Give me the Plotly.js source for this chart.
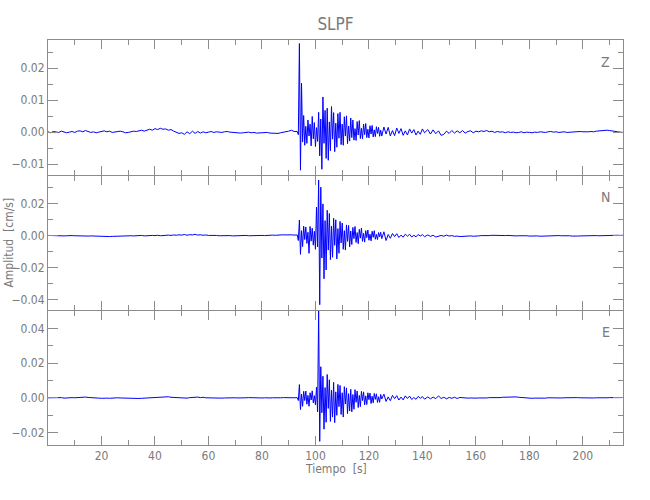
<!DOCTYPE html>
<html>
<head>
<meta charset="utf-8">
<script src="https://cdn.plot.ly/plotly-3.0.1.min.js"></script>
<style>html,body{margin:0;padding:0;background:#fff;}#chart{width:650px;height:500px;}</style>
</head>
<body>
<div id="chart"></div>
<script>
// Time samples [s]
const time = [
0,1,2,3,4,5,6,7,8,9,
10,11,12,13,14,15,16,17,18,19,
20,21,22,23,24,25,26,27,28,29,
30,31,32,33,34,35,36,37,38,39,
40,41,42,43,44,45,46,47,48,49,
50,51,52,53,54,55,56,57,58,59,
60,61,62,63,64,65,66,67,68,69,
70,71,72,73,74,75,76,77,78,79,
80,81,82,83,84,85,86,87,88,89,
90,91,92,
93.2,93.6,94.0,94.4,94.8,95.2,95.6,96.0,96.4,96.8,
97.2,97.6,98.0,98.4,98.8,99.2,99.6,100.0,100.4,100.8,
101.2,101.6,102.0,102.4,102.8,103.2,103.6,104.0,104.4,104.8,
105.2,105.6,106.0,106.4,106.8,107.2,107.6,108.0,108.4,108.8,
109.2,109.6,110.0,110.4,110.8,111.2,111.6,112.0,112.4,112.8,
113.2,113.6,114.0,114.4,114.8,115.2,115.6,116.0,116.4,116.8,
117.2,117.6,118.0,118.4,118.8,119.2,119.6,120.0,120.4,120.8,
121.2,121.6,122.0,122.4,122.8,123.2,123.6,124.0,124.4,124.8,
125.6,126.4,127.2,128.0,128.8,129.6,130.4,131.2,132.0,132.8,
133.6,134.4,135.2,136.0,136.8,137.6,138.4,139.2,140.0,140.8,
142,143,144,145,146,147,148,149,150,151,
152,153,154,155,156,157,158,159,160,161,
162,163,164,165,166,167,168,169,170,171,
172,173,174,175,176,177,178,179,180,181,
182,183,184,185,186,187,188,189,190,191,
192,193,194,195,196,197,198,199,200,201,
202,203,204,205,206,207,208,209,210,211,
212,213,214,215
];

// Vertical component Z [cm/s]
const ampZ = [
0.0001,-0.0002,0.0002,0.0000,-0.0001,0.0003,0.0001,-0.0002,0.0000,0.0002,
-0.0001,0.0003,0.0004,0.0001,0.0005,0.0002,-0.0001,0.0001,-0.0002,0.0000,
0.0002,0.0004,0.0001,0.0003,-0.0001,0.0000,0.0002,0.0003,0.0001,-0.0002,
-0.0001,0.0001,0.0003,0.0002,0.0004,0.0006,0.0003,0.0007,0.0009,0.0006,
0.0011,0.0008,0.0012,0.0009,0.0010,0.0006,0.0008,0.0003,0.0000,-0.0004,
-0.0002,-0.0007,0.0001,-0.0005,0.0003,-0.0004,0.0002,-0.0003,0.0001,-0.0002,
0.0000,0.0002,-0.0001,0.0001,0.0000,-0.0001,0.0001,0.0002,0.0000,-0.0001,
-0.0002,-0.0001,-0.0003,-0.0002,-0.0001,0.0000,-0.0002,-0.0001,-0.0003,-0.0002,
-0.0001,-0.0002,-0.0001,-0.0003,-0.0004,-0.0003,-0.0004,-0.0002,-0.0001,0.0001,
0.0003,0.0006,0.0002,
0.0002,-0.0008,0.0277,-0.0119,0.0153,-0.0031,0.0052,-0.0041,0.0018,-0.0035,
0.0038,-0.0012,0.0025,-0.0043,0.0049,-0.0021,0.0030,-0.0045,0.0014,-0.0029,
0.0062,-0.0074,0.0041,-0.0116,0.0110,-0.0035,0.0068,-0.0082,0.0075,-0.0088,
0.0032,-0.0058,0.0080,-0.0022,0.0061,-0.0061,0.0028,-0.0047,0.0058,-0.0019,
0.0062,-0.0039,0.0025,-0.0041,0.0048,-0.0012,0.0051,-0.0036,0.0019,-0.0028,
0.0044,-0.0017,0.0038,-0.0025,0.0011,-0.0026,0.0033,-0.0009,0.0036,-0.0020,
0.0012,-0.0021,0.0025,-0.0008,0.0027,-0.0017,0.0009,-0.0018,0.0020,-0.0006,
0.0021,-0.0015,0.0007,-0.0014,0.0017,-0.0004,0.0015,-0.0013,0.0006,-0.0012,
0.0016,-0.0006,0.0015,-0.0012,0.0005,-0.0011,0.0013,-0.0004,0.0011,-0.0010,
0.0004,-0.0009,0.0010,-0.0003,0.0008,-0.0009,0.0003,-0.0007,0.0010,-0.0002,
0.0008,-0.0006,0.0007,-0.0005,0.0004,-0.0010,-0.0007,0.0003,-0.0004,0.0005,
-0.0003,0.0004,-0.0002,0.0005,-0.0003,0.0002,0.0004,-0.0002,0.0003,0.0001,
0.0004,0.0002,0.0005,0.0001,0.0003,-0.0001,0.0002,0.0000,0.0001,-0.0002,
0.0001,-0.0001,0.0000,-0.0002,-0.0001,0.0001,-0.0002,0.0000,-0.0001,-0.0002,
0.0000,-0.0001,0.0001,0.0000,-0.0001,0.0001,0.0002,0.0000,0.0001,-0.0001,
0.0000,0.0001,-0.0001,0.0000,0.0001,0.0000,0.0001,0.0002,0.0001,0.0000,
0.0001,0.0002,0.0001,0.0003,0.0004,0.0005,0.0004,0.0006,0.0005,0.0003,
0.0002,0.0001,0.0000,-0.0001
];

// North component N [cm/s]
const ampN = [
0.0002,0.0001,0.0003,0.0002,0.0000,0.0001,-0.0001,0.0000,0.0002,0.0001,
0.0000,-0.0001,-0.0002,-0.0001,-0.0003,-0.0002,-0.0001,-0.0002,-0.0003,-0.0001,
-0.0002,-0.0004,-0.0003,-0.0005,-0.0004,-0.0003,-0.0002,-0.0004,-0.0003,-0.0001,
-0.0002,0.0000,-0.0001,0.0001,0.0000,0.0002,-0.0001,0.0001,0.0000,0.0002,
0.0001,0.0003,0.0000,0.0002,0.0001,0.0004,0.0002,0.0005,0.0003,0.0006,
0.0004,0.0008,0.0003,0.0007,0.0005,0.0009,0.0004,0.0006,0.0003,0.0005,
0.0002,0.0003,0.0001,0.0002,0.0000,0.0001,-0.0001,0.0000,0.0001,-0.0001,
0.0000,0.0001,-0.0001,0.0000,0.0002,0.0000,0.0001,-0.0001,0.0000,0.0001,
0.0002,0.0001,0.0003,0.0002,0.0004,0.0003,0.0005,0.0004,0.0006,0.0005,
0.0007,0.0006,0.0004,
0.0005,-0.0030,0.0099,-0.0117,0.0032,-0.0068,0.0060,-0.0024,0.0055,-0.0048,
0.0022,-0.0110,0.0058,-0.0034,0.0047,-0.0059,0.0028,-0.0085,0.0180,-0.0070,
0.0350,-0.0433,0.0305,-0.0140,0.0200,-0.0270,0.0095,-0.0215,0.0160,-0.0090,
0.0140,-0.0150,0.0060,-0.0135,0.0110,-0.0060,0.0100,-0.0145,0.0045,-0.0110,
0.0090,-0.0045,0.0080,-0.0085,0.0032,-0.0090,0.0068,-0.0035,0.0065,-0.0070,
0.0030,-0.0055,0.0052,-0.0018,0.0058,-0.0042,0.0020,-0.0050,0.0040,-0.0015,
0.0048,-0.0035,0.0015,-0.0040,0.0032,-0.0012,0.0036,-0.0028,0.0010,-0.0032,
0.0028,-0.0010,0.0032,-0.0022,0.0008,-0.0024,0.0020,-0.0007,0.0022,-0.0018,
0.0025,-0.0030,0.0008,-0.0016,0.0014,-0.0005,0.0013,-0.0011,0.0004,-0.0009,
0.0010,-0.0003,0.0009,-0.0008,0.0003,-0.0007,0.0008,-0.0002,0.0007,-0.0006,
0.0005,-0.0004,0.0003,-0.0008,-0.0005,0.0002,-0.0003,0.0004,-0.0002,0.0001,
-0.0004,-0.0002,-0.0005,-0.0003,-0.0004,-0.0002,-0.0001,-0.0003,0.0000,-0.0001,
0.0001,0.0000,0.0002,0.0001,0.0003,0.0002,0.0001,0.0003,0.0002,0.0001,
0.0002,0.0000,0.0001,-0.0001,0.0000,0.0001,-0.0001,0.0000,-0.0002,-0.0001,
0.0000,-0.0001,-0.0003,-0.0002,-0.0001,0.0000,0.0001,-0.0001,0.0000,0.0001,
0.0000,0.0001,-0.0001,0.0000,-0.0002,-0.0004,-0.0002,-0.0001,0.0000,0.0001,
0.0000,0.0001,0.0002,0.0001,0.0000,0.0001,0.0002,0.0003,0.0002,0.0003,
0.0002,0.0003,0.0002,0.0003
];

// East component E [cm/s]
const ampE = [
0.0001,0.0002,0.0000,0.0003,0.0001,0.0002,-0.0001,0.0001,0.0000,0.0002,
0.0001,0.0003,0.0002,0.0004,0.0005,0.0003,0.0001,-0.0001,-0.0002,-0.0001,
-0.0002,0.0000,-0.0001,-0.0002,0.0000,-0.0001,0.0001,0.0000,-0.0001,0.0000,
0.0001,0.0000,-0.0001,-0.0002,-0.0003,-0.0002,-0.0001,0.0000,0.0001,0.0002,
0.0003,0.0005,0.0004,0.0006,0.0005,0.0007,0.0004,0.0003,0.0001,0.0000,
-0.0002,0.0001,-0.0001,0.0002,0.0004,0.0003,0.0005,0.0002,0.0004,0.0001,
0.0000,-0.0001,-0.0002,-0.0001,0.0000,-0.0001,0.0000,0.0001,-0.0001,0.0000,
0.0001,0.0000,-0.0001,0.0000,0.0001,0.0002,0.0001,0.0000,0.0002,0.0001,
0.0000,0.0001,-0.0001,0.0000,0.0001,0.0000,-0.0001,0.0001,0.0002,0.0001,
0.0003,0.0002,0.0001,
0.0002,-0.0015,0.0077,-0.0067,0.0022,-0.0048,0.0038,-0.0015,0.0040,-0.0036,
0.0015,-0.0048,0.0030,-0.0012,0.0041,-0.0028,0.0013,-0.0040,0.0062,-0.0080,
0.0505,-0.0250,0.0180,-0.0085,0.0125,-0.0180,0.0060,-0.0140,0.0135,-0.0060,
0.0105,-0.0135,0.0045,-0.0110,0.0090,-0.0142,0.0035,-0.0100,0.0078,-0.0050,
0.0072,-0.0095,0.0030,-0.0110,0.0065,-0.0035,0.0058,-0.0090,0.0025,-0.0075,
0.0050,-0.0080,0.0020,-0.0065,0.0048,-0.0025,0.0040,-0.0055,0.0015,-0.0050,
0.0038,-0.0015,0.0035,-0.0040,0.0012,-0.0038,0.0030,-0.0010,0.0028,-0.0032,
0.0010,-0.0028,0.0026,-0.0008,0.0024,-0.0026,0.0007,-0.0025,0.0020,-0.0006,
0.0022,-0.0020,0.0006,-0.0016,0.0015,-0.0004,0.0013,-0.0012,0.0005,-0.0011,
0.0012,-0.0003,0.0011,-0.0009,0.0003,-0.0008,0.0009,-0.0002,0.0008,-0.0007,
0.0006,-0.0005,0.0005,-0.0004,0.0012,-0.0003,0.0004,-0.0005,0.0003,-0.0002,
0.0004,-0.0003,0.0003,0.0001,0.0002,-0.0001,0.0000,-0.0002,-0.0001,0.0000,
-0.0001,0.0001,0.0000,0.0002,0.0001,0.0002,0.0003,0.0002,0.0004,0.0005,
0.0006,0.0007,0.0005,0.0006,0.0004,0.0002,0.0001,0.0000,-0.0001,-0.0002,
-0.0001,-0.0002,-0.0001,0.0000,-0.0001,0.0001,0.0000,-0.0001,0.0000,0.0001,
0.0000,0.0001,0.0002,0.0001,0.0000,0.0001,0.0002,0.0001,0.0000,0.0001,
0.0000,-0.0001,0.0000,0.0001,0.0000,0.0001,0.0000,0.0001,0.0002,0.0001,
0.0002,0.0001,0.0002,0.0003
];

const components = ['Z', 'N', 'E'];
const xTickVals = [20, 40, 60, 80, 100, 120, 140, 160, 180, 200];
const xTickText = ['20', '40', '60', '80', '100', '120', '140', '160', '180', '200'];
const xMinorVals = [10, 30, 50, 70, 90, 110, 130, 150, 170, 190, 210];

const FONT = '"Liberation Sans Narrow", "DejaVu Sans Condensed", "Liberation Sans", sans-serif';
const AXC = '#8c8c8c';
const TXT = '#7a7a7a';
const BLUE = '#0000ff';

const series = [ampZ, ampN, ampE];
const traces = series.map((amp, i) => ({
  x: time, y: amp,
  xaxis: i === 0 ? 'x' : 'x' + (i + 1),
  yaxis: i === 0 ? 'y' : 'y' + (i + 1),
  type: 'scatter', mode: 'lines',
  line: {color: BLUE, width: 1},
  showlegend: false, hoverinfo: 'skip'
}));

const common = {
  showline: true, linecolor: AXC, linewidth: 1, mirror: 'ticks',
  ticks: 'inside', tickcolor: AXC, tickwidth: 1,
  showgrid: false, zeroline: false,
  tickfont: {family: FONT, size: 12, color: TXT}
};

function xAxis(anchor, showLabels) {
  return Object.assign({}, common, {
    anchor: anchor, domain: [0, 1], range: [0, 215],
    tickmode: 'array', tickvals: xTickVals, ticktext: xTickText, ticklen: 9,
    showticklabels: showLabels,
    minor: {tickmode: 'array', tickvals: xMinorVals, ticks: 'inside', ticklen: 5, tickcolor: AXC, tickwidth: 1, showgrid: false}
  });
}
function yAxis(anchor, domain, range, dtick, minorDtick) {
  return Object.assign({}, common, {
    anchor: anchor, domain: domain, range: range,
    tickmode: 'linear', tick0: 0, dtick: dtick, tickformat: '.2f', ticklen: 10,
    minor: {tick0: 0, dtick: minorDtick, ticks: 'inside', ticklen: 5, tickcolor: AXC, tickwidth: 1, showgrid: false}
  });
}

// plot area is 405 px tall; panels share a single border pixel
const H = 405;
const layout = {
  width: 650, height: 500,
  margin: {l: 48, r: 27, t: 40, b: 55},
  paper_bgcolor: '#ffffff', plot_bgcolor: '#ffffff',
  font: {family: FONT, color: TXT, size: 12},
  title: {text: 'SLPF', x: 0.5, xref: 'paper', xanchor: 'center', y: 0.952, yref: 'container', yanchor: 'middle',
          font: {family: FONT, size: 17, color: TXT}},
  xaxis: xAxis('y', false),
  xaxis2: xAxis('y2', false),
  xaxis3: xAxis('y3', true),
  yaxis: yAxis('x', [270 / H, 1], [-0.0134, 0.0288], 0.01, 0.005),
  yaxis2: yAxis('x2', [135 / H, 269 / H], [-0.0466, 0.0375], 0.02, 0.01),
  yaxis3: yAxis('x3', [0, 134 / H], [-0.0271, 0.0501], 0.02, 0.01),
  annotations: components.map((c, i) => ({
    text: c, showarrow: false,
    xref: (i === 0 ? 'x' : 'x' + (i + 1)) + ' domain', x: 0.97,
    yref: (i === 0 ? 'y' : 'y' + (i + 1)) + ' domain', y: 0.84,
    xanchor: 'center', yanchor: 'middle',
    font: {family: FONT, size: 14, color: TXT}
  })).concat([
    {text: 'Amplitud  [cm/s]', showarrow: false, textangle: -90,
     xref: 'paper', x: -0.0695, yref: 'paper', y: 0.5, xanchor: 'center', yanchor: 'middle',
     font: {family: FONT, size: 12, color: TXT}},
    {text: 'Tiempo  [s]', showarrow: false,
     xref: 'paper', x: 0.5, yref: 'paper', y: -0.059, xanchor: 'center', yanchor: 'middle',
     font: {family: FONT, size: 12, color: TXT}}
  ])
};

Plotly.newPlot('chart', traces, layout, {staticPlot: true, displayModeBar: false});
</script>
</body>
</html>
